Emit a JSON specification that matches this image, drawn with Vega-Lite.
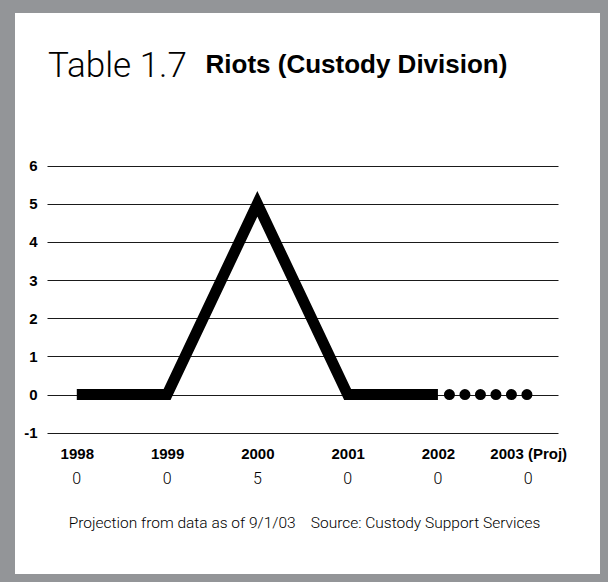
{
  "$schema": "https://vega.github.io/schema/vega-lite/v6.json",
  "width": 585,
  "height": 561,
  "autosize": {"type": "none"},
  "padding": {"left": 15, "top": 13, "right": 8, "bottom": 8},
  "background": "#939598",
  "config": {
    "view": {"fill": "#ffffff", "stroke": null},
    "font": "Liberation Sans"
  },
  "title": {
    "text": "Table 1.7",
    "anchor": "start",
    "frame": "group",
    "dx": 33,
    "dy": 40,
    "offset": -59,
    "baseline": "alphabetic",
    "font": "Roboto",
    "fontSize": 35,
    "fontWeight": 300,
    "color": "#000000"
  },
  "data": {
    "values": [
      {"year": "1998", "riots": 0, "series": "Actual"},
      {"year": "1999", "riots": 0, "series": "Actual"},
      {"year": "2000", "riots": 5, "series": "Actual"},
      {"year": "2001", "riots": 0, "series": "Actual"},
      {"year": "2002", "riots": 0, "series": "Actual"},
      {"year": "2002", "riots": 0, "series": "Projected"},
      {"year": "2003 (Proj)", "riots": 0, "series": "Projected"}
    ]
  },
  "encoding": {
    "x": {
      "field": "year",
      "type": "ordinal",
      "sort": null,
      "scale": {
        "type": "point",
        "domain": ["1998", "1999", "2000", "2001", "2002", "2003 (Proj)"],
        "range": [32, 543],
        "padding": 0.33
      },
      "axis": {
        "title": "Projection from data as of 9/1/03\u00a0\u00a0\u00a0\u00a0Source: Custody Support Services",
        "orient": "bottom",
        "offset": -141.3,
        "domain": false,
        "ticks": false,
        "grid": false,
        "labelAngle": 0,
        "labelPadding": 14,
        "labelFont": "Liberation Sans",
        "labelFontSize": 15,
        "labelFontWeight": "bold",
        "labelColor": "#000000",
        "titleX": 289,
        "titleY": 95,
        "titleAlign": "center",
        "titleBaseline": "alphabetic",
        "titleFont": "Roboto",
        "titleFontSize": 15.5,
        "titleFontWeight": 300,
        "titleColor": "#000000"
      }
    },
    "y": {
      "field": "riots",
      "type": "quantitative",
      "scale": {"domain": [-1, 6], "range": [419.7, 152.7], "nice": false, "zero": false},
      "axis": {
        "title": "Riots (Custody Division)",
        "values": [-1, 0, 1, 2, 3, 4, 5, 6],
        "labelExpr": "'' + datum.value",
        "offset": -32,
        "domain": false,
        "ticks": false,
        "grid": true,
        "gridColor": "#1a1a1a",
        "gridWidth": 1,
        "labelPadding": 10,
        "labelFont": "Liberation Sans",
        "labelFontSize": 15,
        "labelFontWeight": "bold",
        "labelColor": "#000000",
        "titleAngle": 0,
        "titleX": 158,
        "titleY": 59,
        "titleAlign": "left",
        "titleBaseline": "alphabetic",
        "titleFont": "Liberation Sans",
        "titleFontSize": 26,
        "titleFontWeight": "bold",
        "titleColor": "#000000"
      }
    }
  },
  "layer": [
    {
      "transform": [{"filter": "datum.series === 'Actual'"}],
      "mark": {"type": "line", "color": "#000000", "strokeWidth": 11, "strokeJoin": "miter", "strokeCap": "butt"}
    },
    {
      "transform": [{"filter": "datum.series === 'Projected'"}],
      "mark": {"type": "line", "color": "#000000", "strokeWidth": 11, "strokeCap": "round", "strokeDash": [0, 15.5], "strokeDashOffset": 4}
    },
    {
      "transform": [{"filter": "datum.series === 'Actual' || datum.year === '2003 (Proj)'"}],
      "mark": {"type": "text", "baseline": "alphabetic", "dy": 51, "font": "Roboto", "fontSize": 16, "fontWeight": 300, "color": "#000000"},
      "encoding": {
        "y": {"datum": -1},
        "text": {"field": "riots", "type": "quantitative"}
      }
    }
  ]
}
